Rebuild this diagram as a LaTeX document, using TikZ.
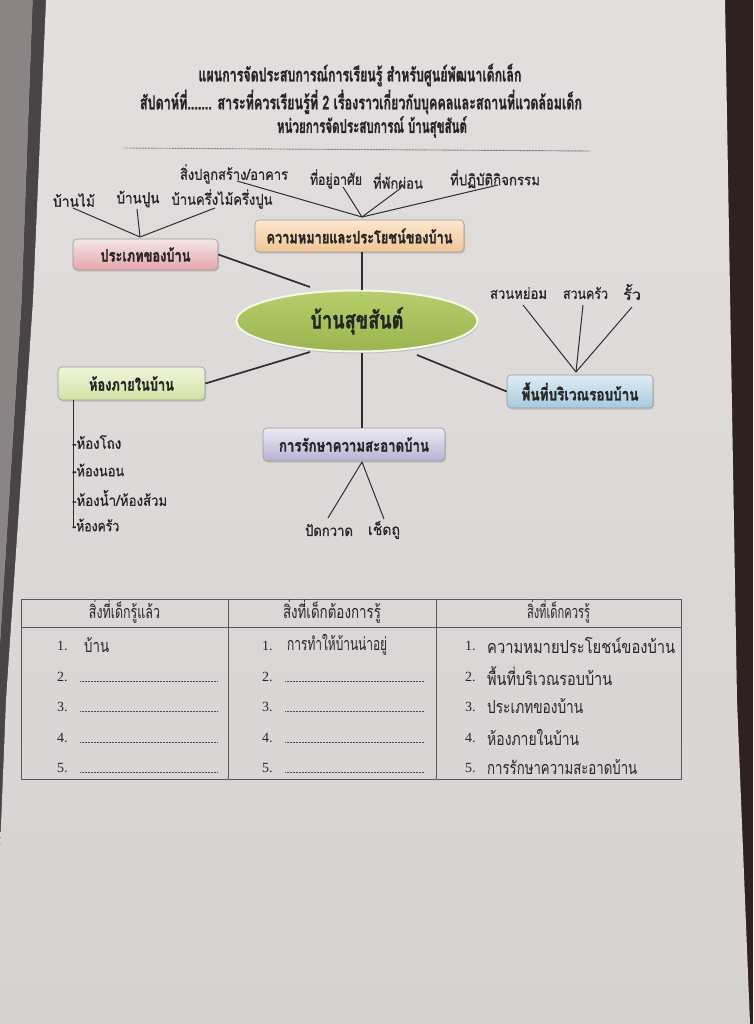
\documentclass[tikz,border=0pt]{standalone}
\usepackage{fontspec}
\usepackage{graphicx}
\newfontfamily\thai[Script=Thai]{Loma}
\newfontfamily\thaimed[Script=Thai,FakeBold=0.9]{Loma}
\newfontfamily\thaihv[Script=Thai,BoldFeatures={FakeBold=1.6}]{Loma}
\newfontfamily\numf{Liberation Serif}
\usetikzlibrary{shadows,shapes.geometric}
\newcommand\fw[2]{\resizebox{#1pt}{\height}{#2}}
\definecolor{pagetop}{HTML}{E3DFDE}
\definecolor{pagebot}{HTML}{D6D2D1}
\definecolor{wood}{HTML}{2E2220}
\definecolor{leftgray}{HTML}{8A8584}
\definecolor{leftdark}{HTML}{4A4446}
\definecolor{ink}{HTML}{262626}
\definecolor{conn}{HTML}{2E2E2E}
\definecolor{elltop}{HTML}{B6CE6C}
\definecolor{ellbot}{HTML}{9AB54E}
\definecolor{pinkt}{HTML}{F5E6E6}
\definecolor{pinkb}{HTML}{E5A6AB}
\definecolor{orat}{HTML}{FBE7D0}
\definecolor{orab}{HTML}{F2C595}
\definecolor{grnt}{HTML}{F0F5DC}
\definecolor{grnb}{HTML}{D2E2A2}
\definecolor{blut}{HTML}{DFECF4}
\definecolor{blub}{HTML}{A6CADF}
\definecolor{lavt}{HTML}{ECEAF3}
\definecolor{lavb}{HTML}{B8B3D3}
\begin{document}
\begin{tikzpicture}[x=1pt,y=-1pt,
  hdr/.style={font=\thaihv\bfseries\fontsize{19}{21}\selectfont, text=ink, inner sep=0pt},
  lbl/.style={font=\thaimed\fontsize{15}{17}\selectfont, text=ink, inner sep=0pt},
  topic/.style={draw=black!40, line width=0.6pt, rounded corners=4pt, inner sep=0pt,
     drop shadow={shadow xshift=1pt, shadow yshift=-1.5pt, opacity=0.3},
     font=\thaihv\bfseries\fontsize{17}{19}\selectfont, text=ink},
  tbl/.style={font=\thai\fontsize{18}{20}\selectfont, text=ink, inner sep=0pt},
  num/.style={font=\numf\fontsize{14}{16}\selectfont, text=ink, inner sep=0pt},
  spoke/.style={draw=conn, line width=1.7pt},
  leaf/.style={draw=conn, line width=1pt},
  grid/.style={draw=black!65, line width=0.9pt},
  filldots/.style={draw=black!70, line width=0.9pt, dash pattern=on 0.6pt off 0.9pt}]
\useasboundingbox (0,0) rectangle (753,1024);
% background: table surface, neighbouring page, sheet
\fill[wood] (0,0) rectangle (753,1024);
\fill[leftgray] (0,0) -- (33,0) -- (22,300) -- (0,650) -- cycle;
\fill[leftdark] (33,0) -- (46,0) -- (33,300) -- (6,700) -- (0,850) -- (0,650) -- (22,300) -- cycle;
\shade[top color=pagetop, bottom color=pagebot]
  (46,0) -- (725,0) -- (737,700) -- (750,1024) -- (0,1024) -- (0,850) -- (6,700) -- (33,300) -- cycle;

% header
\node[hdr] (h1) at (360,75) {\fw{323}{แผนการจัดประสบการณ์การเรียนรู้ สำหรับศูนย์พัฒนาเด็กเล็ก}};
\node[hdr] (h2) at (361,102) {\fw{442}{สัปดาห์ที่....... สาระที่ควรเรียนรู้ที่ 2 เรื่องราวเกี่ยวกับบุคคลและสถานที่แวดล้อมเด็ก}};
\node[hdr] (h3) at (372,127) {\fw{190}{หน่วยการจัดประสบการณ์ บ้านสุขสันต์}};
\draw[filldots] (124,148) -- (590,151);

% centre
\node[ellipse, minimum width=241pt, minimum height=61pt, inner sep=0pt,
      top color=elltop, bottom color=ellbot, draw=white!85!elltop, line width=2pt,
      drop shadow={shadow xshift=1pt, shadow yshift=-2pt, opacity=0.3},
      font=\thaihv\bfseries\fontsize{24}{26}\selectfont, text=ink] (ell) at (357,321) {\fw{93}{บ้านสุขสันต์}};

% topic boxes
\node[topic, top color=orat, bottom color=orab, minimum width=209pt, minimum height=32pt] (mean) at (359.5,236) {\fw{186}{ความหมายและประโยชน์ของบ้าน}};
\node[topic, top color=pinkt, bottom color=pinkb, minimum width=145pt, minimum height=31pt] (kind) at (145.5,254.5) {\fw{90}{ประเภทของบ้าน}\hspace{10pt}};
\node[topic, top color=grnt, bottom color=grnb, minimum width=147pt, minimum height=33pt] (room) at (131.5,383.5) {\fw{85}{ห้องภายในบ้าน}\hspace{30pt}};
\node[topic, top color=blut, bottom color=blub, minimum width=146pt, minimum height=33pt] (area) at (580,391.5) {\fw{117}{พื้นที่บริเวณรอบบ้าน}};
\node[topic, top color=lavt, bottom color=lavb, minimum width=182pt, minimum height=33pt] (clean) at (354,444.5) {\fw{150}{การรักษาความสะอาดบ้าน}};

% spoke end points near the ellipse
\coordinate (e1) at (310,287);
\coordinate (et) at (362,290);
\coordinate (e2) at (310,352);
\coordinate (eb) at (362,353);
\coordinate (e3) at (417,355);

\draw[spoke] (kind.east) -- (e1);
\draw[spoke] (mean.south -| et) -- (et);
\draw[spoke] (room.east) -- (e2);
\draw[spoke] (eb) -- (clean.north -| eb);
\draw[spoke] (e3) -- (area.west);

% leaves of "meaning"
\node[lbl] (m1) at (234,174) {\fw{108}{สิ่งปลูกสร้าง/อาคาร}};
\node[lbl] (m2) at (336,179) {\fw{52}{ที่อยู่อาศัย}};
\node[lbl] (m3) at (398,181) {\fw{50}{ที่พักผ่อน}};
\node[lbl] (m4) at (495,179) {\fw{90}{ที่ปฏิบัติกิจกรรม}};
\coordinate (mh) at (362,217);
\coordinate (m1e) at (237,181);
\coordinate (m2e) at (343,187);
\coordinate (m3e) at (401,188);
\coordinate (m4e) at (498,185);
\foreach \c in {m1e,m2e,m3e,m4e} \draw[leaf] (mh) -- (\c);

% leaves of "kinds"
\node[lbl] (k1) at (74,200) {\fw{42}{บ้านไม้}};
\node[lbl] (k2) at (138,199) {\fw{43}{บ้านปูน}};
\node[lbl] (k3) at (222,199) {\fw{101}{บ้านครึ่งไม้ครึ่งปูน}};
\coordinate (kh) at (140,237);
\coordinate (k1e) at (73,208);
\coordinate (k2e) at (137,209);
\coordinate (k3e) at (215,208);
\foreach \c in {k1e,k2e,k3e} \draw[leaf] (kh) -- (\c);

% leaves of "surroundings"
\node[lbl] (a1) at (518.5,293) {\fw{57}{สวนหย่อม}};
\node[lbl] (a2) at (585.5,293) {\fw{45}{สวนครัว}};
\node[lbl] (a3) at (632,292) {\fw{18}{รั้ว}};
\coordinate (ah) at (576,372);
\coordinate (a1e) at (523,305);
\coordinate (a2e) at (583,305);
\coordinate (a3e) at (632,307);
\foreach \c in {a1e,a2e,a3e} \draw[leaf] (ah) -- (\c);

% rooms list
\coordinate (rl) at (73,527);
\draw[leaf] (room.south -| rl) -- (rl);
\node[lbl, anchor=west] (r1) at (72,442) {\fw{49}{-ห้องโถง}};
\node[lbl, anchor=west] (r2) at (72,470) {\fw{52}{-ห้องนอน}};
\node[lbl, anchor=west] (r3) at (72,498) {\fw{95}{-ห้องน้ำ/ห้องส้วม}};
\node[lbl, anchor=west] (r4) at (72,525) {\fw{47}{-ห้องครัว}};

% leaves of "cleaning"
\node[lbl] (c1) at (329,530) {\fw{48}{ปัดกวาด}};
\node[lbl] (c2) at (384,530) {\fw{32}{เช็ดถู}};
\coordinate (ch) at (362,462);
\coordinate (c1e) at (328,518);
\coordinate (c2e) at (384,519);
\foreach \c in {c1e,c2e} \draw[leaf] (ch) -- (\c);

% table
\draw[grid] (21,599) rectangle (681,779);
\draw[grid] (228,599) -- (228,779);
\draw[grid] (436,599) -- (436,779);
\draw[grid] (21,627) -- (681,627);
\node[tbl] (t1) at (124.5,612) {\fw{71}{สิ่งที่เด็กรู้แล้ว}};
\node[tbl] (t2) at (332,612) {\fw{98}{สิ่งที่เด็กต้องการรู้}};
\node[tbl] (t3) at (558.5,612) {\fw{63}{สิ่งที่เด็กควรรู้}};

\foreach \n/\y in {1/646,2/677,3/707,4/738,5/768} {
  \node[num, anchor=west] (na\n) at (57,\y) {\n.};
  \node[num, anchor=west] (nb\n) at (262,\y) {\n.};
  \node[num, anchor=west] (nc\n) at (465,\y) {\n.};
}
\foreach \y in {677,707,738,768} {
  \draw[filldots] (80,\y+4) -- (218,\y+4);
  \draw[filldots] (285,\y+4) -- (424,\y+4);
}
\node[tbl, anchor=west] (x1) at (84,645) {\fw{25}{บ้าน}};
\node[tbl, anchor=west] (y1) at (287,645) {\fw{100}{การทำให้บ้านน่าอยู่}};
\node[tbl, anchor=west] (z1) at (487,645) {\fw{188}{ความหมายประโยชน์ของบ้าน}};
\node[tbl, anchor=west] (z2) at (487,676) {\fw{125}{พื้นที่บริเวณรอบบ้าน}};
\node[tbl, anchor=west] (z3) at (487,706) {\fw{96}{ประเภทของบ้าน}};
\node[tbl, anchor=west] (z4) at (487,737) {\fw{92}{ห้องภายในบ้าน}};
\node[tbl, anchor=west] (z5) at (487,767) {\fw{150}{การรักษาความสะอาดบ้าน}};
\end{tikzpicture}
\end{document}
